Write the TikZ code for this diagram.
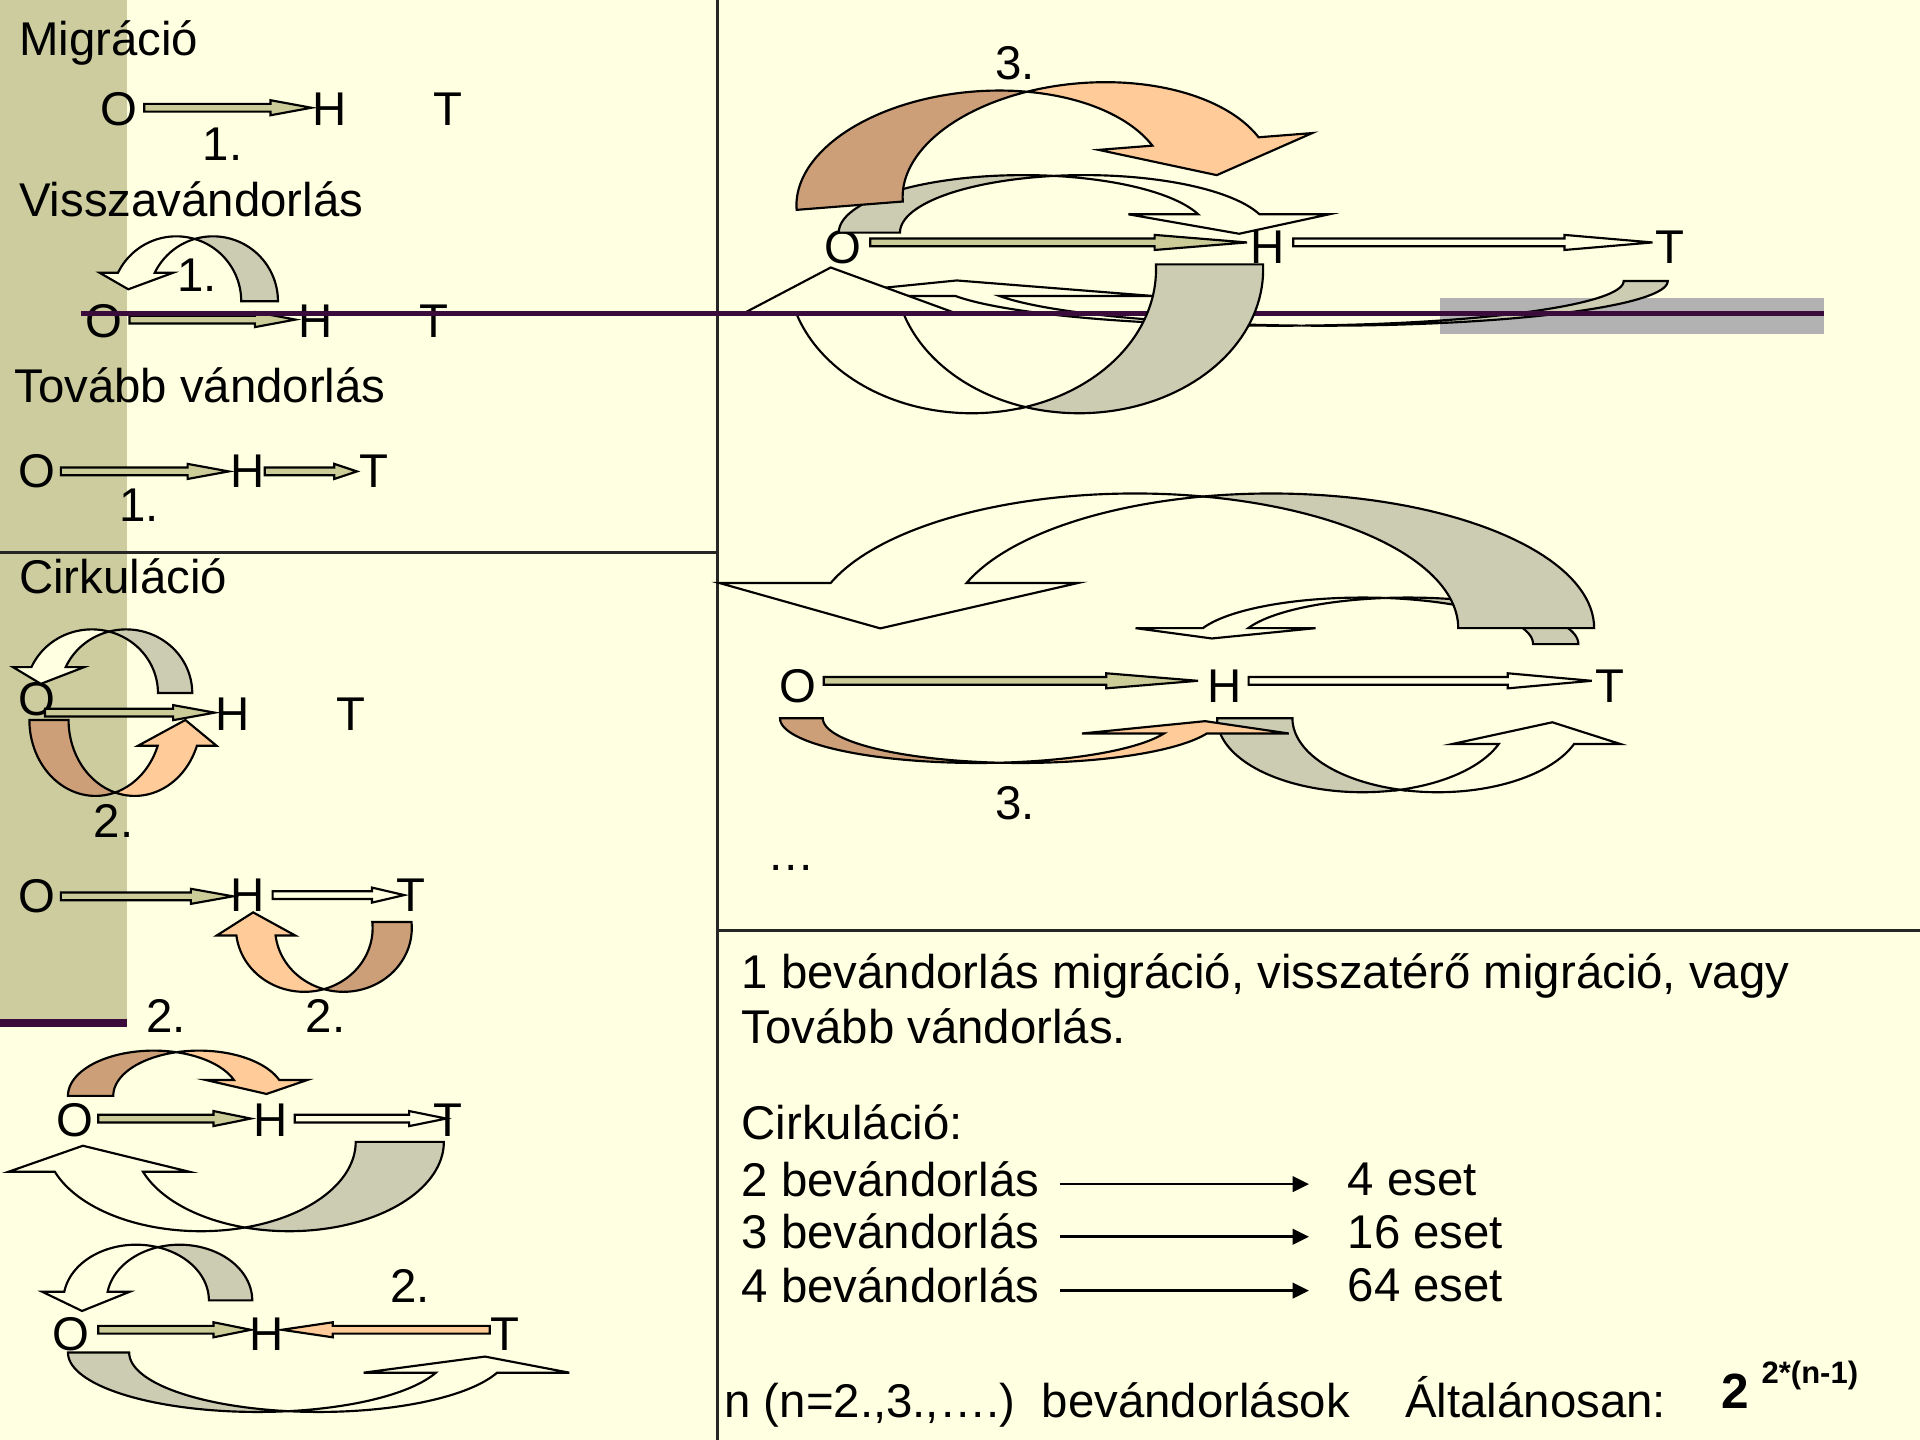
\documentclass[tikz,border=0pt]{standalone}
\usepackage{fontspec}
\setmainfont{Liberation Sans}
\usetikzlibrary{arrows.meta, calc}

\definecolor{paper}{HTML}{FFFFE1}
\definecolor{bandolive}{HTML}{CCCC9E}
\definecolor{arrgreen}{HTML}{CCCC99}
\definecolor{arrgray}{HTML}{CCCCB3}
\definecolor{arrbrown}{HTML}{CC9F78}
\definecolor{arrpeach}{HTML}{FFCC99}
\definecolor{barpurple}{HTML}{3B0B3B}
\definecolor{boxgray}{HTML}{B2B2B2}

\newif\ifbTailOn
\newif\ifbHeadOn
\pgfkeys{/bent/.cd,
  cx/.store in=\bCx, cy/.store in=\bCy,
  a/.store in=\bA, b/.store in=\bB, w/.store in=\bW,
  apex/.store in=\bApex,
  tail/.store in=\bTail, head/.store in=\bHead,
  hw/.store in=\bHw, hl/.store in=\bHl, hd/.store in=\bHd,
  tc/.store in=\bTc, hc/.store in=\bHc, rot/.store in=\bRot,
  tailpart/.is if=bTailOn, headpart/.is if=bHeadOn,
  reset/.style={rot=0, hd=, tailpart=true, headpart=true}}

% bent band arrow: two equal ellipses shifted by w, tail end and head end
\newcommand{\bentarrow}[1]{%
  \pgfqkeys{/bent}{reset,#1}%
  \pgfmathsetmacro\bAl{acos(\bW/(2*\bA))}%
  \pgfmathsetmacro\bCz{\bApex*\bAl}%
  \pgfmathsetmacro\bCo{\bApex*(180-\bAl)}%
  \pgfmathsetmacro\bCxo{\bCx+\bW}%
  \pgfmathsetmacro\bPzx{\bCx+\bA*cos(\bHead)}%
  \pgfmathsetmacro\bPox{\bPzx+\bW}%
  \pgfmathsetmacro\bMy{\bCy+\bB*sin(\bHead)}%
  \pgfmathtruncatemacro\bHR{cos(\bHead)>0}%
  \ifx\bHd\empty
    \pgfmathsetmacro\bSg{2*(\bHead>\bCz)-1}%
    \pgfmathsetmacro\bDx{-1*\bSg*\bA*sin(\bHead)}%
    \pgfmathsetmacro\bDy{\bSg*\bB*cos(\bHead)}%
  \else
    \pgfmathsetmacro\bDx{cos(\bHd)}%
    \pgfmathsetmacro\bDy{sin(\bHd)}%
  \fi
  \pgfmathsetmacro\bDn{veclen(\bDx,\bDy)}%
  \pgfmathsetmacro\bTx{\bPzx+\bW/2+\bHl*\bDx/\bDn}%
  \pgfmathsetmacro\bTy{\bMy+\bHl*\bDy/\bDn}%
  \begin{scope}[rotate around={\bRot:(\bCx,\bCy)}]
  \ifnum\bHR=1
    \ifbHeadOn
    \filldraw[bentline, fill=\bHc]
      plot[domain=\bCo:\bHead] ({\bCxo+\bA*cos(\x)},{\bCy+\bB*sin(\x)})
      -- ({\bPox+\bHw},\bMy) -- (\bTx,\bTy) -- ({\bPzx-\bHw},\bMy)
      -- plot[domain=\bHead:\bCz] ({\bCx+\bA*cos(\x)},{\bCy+\bB*sin(\x)}) -- cycle;
    \fi
    \ifbTailOn
    \filldraw[bentline, fill=\bTc]
      plot[domain=\bCz:\bTail] ({\bCx+\bA*cos(\x)},{\bCy+\bB*sin(\x)})
      -- plot[domain=\bTail:\bCo] ({\bCxo+\bA*cos(\x)},{\bCy+\bB*sin(\x)}) -- cycle;
    \fi
  \else
    \ifbHeadOn
    \filldraw[bentline, fill=\bHc]
      plot[domain=\bCz:\bHead] ({\bCx+\bA*cos(\x)},{\bCy+\bB*sin(\x)})
      -- ({\bPzx-\bHw},\bMy) -- (\bTx,\bTy) -- ({\bPox+\bHw},\bMy)
      -- plot[domain=\bHead:\bCo] ({\bCxo+\bA*cos(\x)},{\bCy+\bB*sin(\x)}) -- cycle;
    \fi
    \ifbTailOn
    \filldraw[bentline, fill=\bTc]
      plot[domain=\bCo:\bTail] ({\bCxo+\bA*cos(\x)},{\bCy+\bB*sin(\x)})
      -- plot[domain=\bTail:\bCz] ({\bCx+\bA*cos(\x)},{\bCy+\bB*sin(\x)}) -- cycle;
    \fi
  \fi
  \end{scope}}

% straight block arrow between two points (horizontal)
\newcommand{\blockarr}[3][arrgreen]{%
  \filldraw[blockline, fill=#1] let \p1=#2, \p2=#3, \n1={0.245*(\x2-\x1)} in
    (\x1,{\y1+0.9pt}) -- ({\x2-1pt*\n1},{\y1+0.9pt}) -- ({\x2-1pt*\n1},{\y1+1.75pt})
    -- (\x2,\y1) -- ({\x2-1pt*\n1},{\y1-1.75pt}) -- ({\x2-1pt*\n1},{\y1-0.9pt})
    -- (\x1,{\y1-0.9pt}) -- cycle;}

\begin{document}
\begin{tikzpicture}[
    x=0.01cm, y=-0.01cm,
    font=\fontsize{11}{13}\selectfont,
    letter/.style={inner sep=0pt},
    lbl/.style={inner sep=0pt, anchor=base west},
    blockline/.style={draw=black, line width=0.5pt},
    bentline/.style={draw=black, line width=0.5pt, samples=48},
    rule/.style={draw=black!85, line width=0.8pt},
    thinarr/.style={-{Triangle[length=3.8pt,width=3.6pt]}, line width=0.6pt}
]
\useasboundingbox (0,0) rectangle (1568,1176);
\fill[paper] (0,0) rectangle (1568,1176);
\fill[bandolive] (0,0) rectangle (104,832);
\fill[barpurple] (0,832) rectangle (104,839);
\draw[rule] (586,0) -- (586,1176);
\draw[rule] (0,451) -- (586,451);
\draw[rule] (586,760) -- (1568,760);
\fill[boxgray] (1176,243) rectangle (1490,273);

\node[lbl] (mig) at (15,45) {Migráció};
\node[lbl] (vissza) at (15,177) {Visszavándorlás};
\node[lbl] (tovabb) at (11,328.5) {Tovább vándorlás};
\node[lbl] (cirk) at (15,485) {Cirkuláció};
\node[lbl] (n1a) at (165,131) {1.};
\node[lbl] (n1b) at (144,238) {1.};
\node[lbl] (n1c) at (97,426) {1.};
\node[lbl] (n2a) at (76,684) {2.};
\node[lbl] (n2b) at (119,843) {2.};
\node[lbl] (n2c) at (249,843) {2.};
\node[lbl] (n2d) at (318,1064) {2.};
\node[lbl] (n3a) at (812,65) {3.};
\node[lbl] (n3b) at (812,669) {3.};
\node[lbl] (dots) at (626,711) {…};

\node[letter] (o1) at (97,89) {O};
\node[letter] (h1) at (269,89) {H};
\node[letter] (t1) at (366,89) {T};
\node[letter] (o2) at (85,262) {O};
\node[letter] (h2) at (258,262) {H};
\node[letter] (t2) at (354.5,262) {T};
\node[letter] (o3) at (30,385) {O};
\node[letter] (h3) at (202.5,385) {H};
\node[letter] (t3) at (305,385) {T};
\node[letter] (o4) at (30,571) {O};
\node[letter] (h4) at (190,583) {H};
\node[letter] (t4) at (287,583) {T};
\node[letter] (o5) at (30,732) {O};
\node[letter] (h5) at (202.5,731) {H};
\node[letter] (t5) at (335.6,731) {T};
\node[letter] (o6) at (61,915) {O};
\node[letter] (h6) at (221,915) {H};
\node[letter] (t6) at (366,915) {T};
\node[letter] (o7) at (58,1090) {O};
\node[letter] (h7) at (218,1090) {H};
\node[letter] (t7) at (412.5,1090) {T};
\node[letter] (o8) at (688,202) {O};
\node[letter] (h8) at (1035,202) {H};
\node[letter] (t8) at (1364,202) {T};
\node[letter] (o9) at (651.5,560) {O};
\node[letter] (h9) at (1000,560) {H};
\node[letter] (t9) at (1314.5,560) {T};

\node[lbl] (s1) at (605,807) {1 bevándorlás migráció, visszatérő migráció, vagy};
\node[lbl] (s2) at (605,852) {Tovább vándorlás.};
\node[lbl] (s3) at (605,930.5) {Cirkuláció:};
\node[lbl] (b2) at (605,977) {2 bevándorlás};
\node[lbl] (b3) at (605,1020) {3 bevándorlás};
\node[lbl] (b4) at (605,1064) {4 bevándorlás};
\node[lbl] (e2) at (1100,976) {4 eset};
\node[lbl] (e3) at (1100,1020) {16 eset};
\node[lbl] (e4) at (1100,1063) {64 eset};
\node[lbl] (nn) at (591,1158) {n (n=2.,3.,….)};
\node[lbl] (bev) at (850,1158) {bevándorlások};
\node[lbl] (alt) at (1147,1158) {Általánosan:};
\node[lbl, font=\fontsize{11.5}{13}\selectfont\bfseries] (base2) at (1405,1150) {2};
\node[lbl, font=\fontsize{7.2}{8}\selectfont\bfseries] (expo) at (1438,1130) {2*(n-1)};

\draw[thinarr] ($(b2.base east)+(16,-10)$) -- ($(e2.base west |- b2.base)+(-31,-10)$);
\draw[thinarr] ($(b3.base east)+(16,-10)$) -- ($(e3.base west |- b3.base)+(-31,-10)$);
\draw[thinarr] ($(b4.base east)+(16,-10)$) -- ($(e4.base west |- b4.base)+(-31,-10)$);

\blockarr{($(o1.east)+(5,-1)$)}{(h1.west)}
\blockarr{($(o2.east)+(5,-1)$)}{($(h2.west)+(-2,0)$)}
\blockarr{($(o3.east)+(4,0)$)}{($(h3.west)+(-1,0)$)}
\blockarr{($(h3.east)+(-1,0)$)}{($(t3.west)+(-1,0)$)}
\blockarr{($(o4.east |- h4.center)+(-9,-1)$)}{(h4.west)}
\blockarr{($(o5.east)+(4,0)$)}{($(h5.west)+(2.5,0)$)}
\blockarr[paper]{($(h5.east)+(5.5,0)$)}{($(t5.west)+(7,0)$)}
\blockarr{($(o6.east)+(3.5,-1.5)$)}{($(h6.west)+(-1.5,0)$)}
\blockarr[paper]{($(h6.east)+(5,-1.5)$)}{($(t6.west)+(11,0)$)}
\blockarr{($(o7.east)+(6.5,-4)$)}{($(h7.west)+(1.5,0)$)}
\blockarr[arrpeach]{($(t7.west)+(0,-4)$)}{($(h7.east)+(-2.5,0)$)}
\blockarr{($(o8.east)+(7,-4)$)}{($(h8.west)+(-2,0)$)}
\blockarr[paper]{($(h8.east)+(6.5,-4)$)}{($(t8.west)+(-2,0)$)}
\blockarr{($(o9.east)+(5.5,-4)$)}{($(h9.west)+(-7,0)$)}
\blockarr[paper]{($(h9.east)+(5,-4)$)}{($(t9.west)+(-2,0)$)}

\bentarrow{cx=144, cy=246, a=53, b=53, w=30, apex=-1, tail=0, head=-154, hw=15, hl=15, tc=arrgray, hc=paper}
\bentarrow{cx=75, cy=566, a=54, b=52, w=28, apex=-1, tail=0, head=-156, hw=15, hl=15, tc=arrgray, hc=paper}
\bentarrow{cx=78, cy=588, a=54, b=62, w=32, apex=1, tail=180, head=19.8, hw=16, hl=22, tc=arrbrown, hc=arrpeach}
\bentarrow{cx=248.5, cy=758, a=55.8, b=52, w=32, apex=1, tail=-5.5, head=173.4, hw=16, hl=19, tc=arrbrown, hc=arrpeach}
\bentarrow{cx=125.5, cy=895, a=70, b=37, w=37, apex=-1, tail=-180, head=-20.6, hw=23, hl=14, tc=arrbrown, hc=arrpeach}
\bentarrow{cx=164, cy=932.5, a=126.5, b=73, w=72, apex=1, tail=0, head=160.4, hw=38, hl=25, tc=arrgray, hc=paper}
\bentarrow{cx=111.2, cy=1062, a=59.4, b=45.5, w=35.4, apex=-1, tail=0, head=-171.1, hw=18, hl=16, tc=arrgray, hc=paper}
\bentarrow{cx=210.3, cy=1104.6, a=154.8, b=48.5, w=50, apex=1, tail=180, head=19.8, hw=59, hl=20, tc=arrgray, hc=paper}

\bentarrow{cx=835.7, cy=190, a=150.7, b=47, w=50, apex=-1, tail=-180, head=-18.6, hw=57, hl=18, hd=62, tc=arrgray, hc=paper}
\bentarrow{cx=801.7, cy=159.5, a=151.6, b=85, w=87, apex=-1, tail=-180, head=-20.3, hw=44, hl=29, hd=76, rot=4.5, tc=arrbrown, hc=arrpeach}
\bentarrow{cx=1045, cy=229.5, a=281, b=36.5, w=36, apex=1, tail=0, head=160.5, hw=125, hl=21, hd=217, tc=arrgray, hc=paper}
\bentarrow{cx=793.6, cy=220, a=150.5, b=117.5, w=87.5, apex=1, tail=-2, head=162, hw=44, hl=41, tc=arrgray, hc=paper, tailpart=false}
\draw[barpurple, line width=1pt] (66,256) -- (1490,256);
\bentarrow{cx=793.6, cy=220, a=150.5, b=117.5, w=87.5, apex=1, tail=-2, head=162, hw=44, hl=41, tc=arrgray, hc=paper, headpart=false}

\bentarrow{cx=1113, cy=526, a=139, b=38, w=37, apex=-1, tail=0, head=-160, hw=55, hl=14, tc=arrgray, hc=paper}
\bentarrow{cx=927, cy=513, a=263.9, b=110, w=111, apex=-1, tail=0, head=-160.4, hw=91, hl=40, hd=112, tc=arrgray, hc=paper}
\bentarrow{cx=1112.7, cy=586.6, a=118.7, b=60.4, w=61.5, apex=1, tail=180, head=20.4, hw=38, hl=22, tc=arrgray, hc=paper}
\bentarrow{cx=798.6, cy=586.6, a=161.6, b=36.5, w=35, apex=1, tail=180, head=19.9, hw=67, hl=19, tc=arrbrown, hc=arrpeach}
\end{tikzpicture}
\end{document}
